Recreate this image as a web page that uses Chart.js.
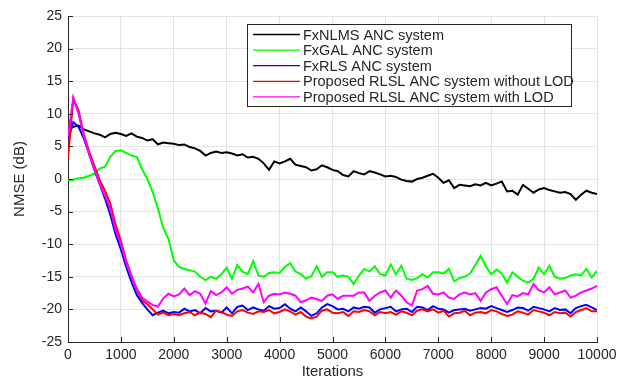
<!DOCTYPE html>
<html>
<head>
<meta charset="utf-8">
<title>NMSE vs iterations</title>
<script src="https://cdn.jsdelivr.net/npm/chart.js@4.4.0/dist/chart.umd.min.js"></script>
<style>
    html, body { margin: 0; padding: 0; background: #fff; }
    #wrap { width: 632px; height: 381px; }
</style>
</head>
<body>
<div id="wrap"><canvas id="nmseChart" width="632" height="381"></canvas></div>
<script>
// NMSE curves, one value every 100 iterations (0 .. 10000)
const ITER_STEP = 100;

const fxnlms = [
    7.6, 8.0, 8.2, 7.6, 7.3, 7.0, 6.8, 6.4, 6.9, 7.1,
    6.9, 6.6, 7.0, 6.5, 6.3, 5.9, 6.1, 5.3, 5.6, 5.5,
    5.4, 5.2, 5.3, 4.9, 4.7, 4.3, 3.6, 4.0, 4.2, 4.0,
    4.1, 3.9, 3.6, 3.8, 3.3, 3.4, 3.1, 2.4, 1.4, 2.7,
    2.4, 2.7, 3.1, 2.2, 2.0, 1.8, 1.3, 1.5, 2.1, 1.8,
    1.4, 1.2, 0.6, 0.4, 1.2, 0.9, 0.7, 1.2, 1.0, 0.7,
    0.4, 0.5, 0.3, -0.1, -0.3, -0.4, 0.0, 0.2, 0.5, 0.8,
    0.2, -0.6, -0.2, -1.4, -0.9, -1.0, -1.1, -0.8, -1.0, -0.6,
    -1.0, -0.7, -0.4, -1.9, -1.8, -2.4, -0.9, -1.5, -2.1, -1.6,
    -1.4, -1.7, -1.9, -2.1, -2.0, -2.3, -3.2, -2.4, -1.8, -2.1,
    -2.3
];

const fxgal = [
    -0.2, -0.1, 0.1, 0.2, 0.5, 0.8, 1.6, 1.9, 3.4, 4.3,
    4.4, 4.0, 3.6, 3.4, 1.5, 0.0, -2.0, -4.5, -7.5, -9.2,
    -12.5, -13.5, -13.8, -14.0, -14.2, -15.0, -15.5, -15.0, -15.3, -14.6,
    -13.6, -15.3, -13.2, -14.2, -14.6, -12.6, -14.8, -15.0, -14.4, -14.3,
    -14.4, -13.5, -12.9, -14.2, -14.6, -15.3, -14.9, -13.4, -15.0, -14.3,
    -14.3, -15.0, -14.8, -15.0, -16.1, -14.8, -13.8, -14.2, -13.4, -14.6,
    -14.8, -13.1, -14.6, -13.3, -15.3, -15.5, -15.2, -14.6, -15.1, -14.3,
    -14.3, -14.5, -13.8, -15.7, -15.2, -15.0, -14.5, -13.2, -11.8, -13.4,
    -14.6, -13.9, -14.5, -15.9, -14.3, -15.0, -15.6, -15.9, -15.3, -13.6,
    -14.6, -13.3, -15.0, -15.3, -15.2, -14.8, -14.6, -14.8, -13.8, -15.1,
    -14.1
];

const fxrls = [
    6.0, 8.7, 8.0, 6.2, 3.8, 1.4, -0.8, -3.0, -5.5, -8.5,
    -10.8, -13.5, -15.8, -17.8, -19.0, -20.0, -20.9, -20.5, -20.2, -20.6,
    -20.4, -20.5, -19.9, -20.3, -20.1, -20.6, -19.8, -20.3, -20.2, -20.5,
    -19.7, -20.6, -19.6, -19.4, -20.1, -19.7, -20.0, -20.2, -19.5, -19.9,
    -19.8, -19.2, -19.9, -20.3, -19.7, -20.3, -21.0, -20.6, -19.7, -19.2,
    -19.5, -20.0, -19.9, -20.3, -19.7, -19.9, -19.6, -19.7, -20.5, -20.0,
    -19.8, -19.6, -20.3, -20.0, -19.9, -20.4, -19.6, -19.7, -20.1, -19.5,
    -19.9, -20.0, -20.5, -20.1, -20.0, -19.9, -20.2, -20.0, -19.8, -19.9,
    -19.5, -19.8, -20.1, -20.4, -20.1, -19.7, -19.8, -20.2, -19.6, -19.8,
    -20.0, -20.3, -19.8, -20.1, -20.0, -20.6, -19.8, -19.5, -19.3, -19.7,
    -20.1
];

const rlslNoLod = [
    3.2, 12.3, 10.5, 6.8, 4.2, 2.0, -0.2, -1.8, -3.8, -7.0,
    -9.5, -12.5, -14.8, -17.0, -18.6, -19.2, -20.0, -20.8, -20.5, -20.9,
    -20.7, -20.9, -20.6, -20.4, -20.9, -20.5, -20.7, -21.2, -20.2, -20.4,
    -20.8, -21.0, -20.3, -20.1, -20.5, -20.7, -20.3, -20.4, -20.1, -20.6,
    -20.4, -20.0, -20.3, -20.8, -20.4, -21.1, -21.4, -21.1, -20.2, -20.0,
    -20.5, -20.6, -20.4, -21.0, -20.3, -20.4, -20.1, -20.3, -20.9, -20.4,
    -20.6, -20.4, -20.8, -20.3, -20.5, -20.9, -20.2, -20.0, -20.3, -20.0,
    -20.5, -20.2, -21.1, -20.6, -20.5, -20.2, -20.9, -20.5, -20.4, -20.6,
    -20.1, -20.3, -20.7, -21.0, -20.8, -20.3, -20.5, -20.8, -20.1, -20.3,
    -20.5, -20.9, -20.4, -20.6, -20.5, -21.1, -20.4, -20.1, -19.8, -20.3,
    -20.3
];

const rlslLod = [
    6.5, 12.5, 10.0, 6.5, 3.8, 1.5, -0.7, -2.6, -4.5, -7.8,
    -10.0, -12.8, -15.0, -16.8, -18.2, -18.8, -19.3, -19.6, -18.3, -17.6,
    -18.0, -17.7, -16.8, -17.8, -17.2, -17.6, -19.1, -17.2, -17.8, -17.4,
    -16.6, -17.6, -17.0, -16.8, -16.5, -17.4, -16.1, -18.9, -17.9, -17.6,
    -17.7, -17.4, -17.6, -17.9, -18.9, -18.6, -18.2, -18.4, -18.7, -17.9,
    -17.7, -18.4, -17.9, -17.9, -17.9, -17.4, -17.4, -18.7, -17.9, -17.4,
    -17.1, -18.2, -17.1, -17.9, -18.9, -19.4, -17.1, -16.9, -16.4, -17.6,
    -17.7, -17.4, -18.2, -18.4, -17.7, -17.4, -17.7, -17.5, -18.7, -17.4,
    -16.9, -16.6, -17.9, -19.2, -17.8, -18.0, -17.5, -17.7, -16.1, -17.1,
    -17.4, -16.6, -17.7, -17.4, -17.1, -18.2, -17.9, -17.4, -17.1, -16.8,
    -16.4
];

const seriesNames = [
    "FxNLMS ANC system",
    "FxGAL ANC system",
    "FxRLS ANC system",
    "Proposed RLSL ANC system without LOD",
    "Proposed RLSL ANC system with LOD"
];
const seriesValues = [fxnlms, fxgal, fxrls, rlslNoLod, rlslLod];
const seriesColors = ["#000000", "#00ff00", "#0000ff", "#ff0000", "#ff00ff"];

const iterations = fxnlms.map((_, i) => i * ITER_STEP);

const axisColor = "#262626";
const gridColor = "#e3e3e3";
const fontFamily = "'Liberation Sans', Arial, Helvetica, sans-serif";

// MATLAB-style inward tick marks on the left and bottom axes
const innerTicks = {
    id: "innerTicks",
    afterDatasetsDraw(chart) {
        const { ctx, chartArea, scales } = chart;
        ctx.save();
        ctx.strokeStyle = axisColor;
        ctx.lineWidth = 1;
        ctx.beginPath();
        scales.y.ticks.forEach((t) => {
            const py = Math.round(scales.y.getPixelForValue(t.value)) + 0.5;
            ctx.moveTo(chartArea.left, py);
            ctx.lineTo(chartArea.left + 5, py);
        });
        scales.x.ticks.forEach((t) => {
            const px = Math.round(scales.x.getPixelForValue(t.value)) + 0.5;
            ctx.moveTo(px, chartArea.bottom);
            ctx.lineTo(px, chartArea.bottom - 5);
        });
        ctx.stroke();
        ctx.restore();
    }
};

// Boxed legend in the upper right of the plot
const boxLegend = {
    id: "boxLegend",
    afterDraw(chart) {
        const ctx = chart.ctx;
        const x = 247, y = 24, w = 324, h = 82;
        const rowH = 15.6;
        ctx.save();
        ctx.fillStyle = "#fff";
        ctx.fillRect(x, y, w, h);
        ctx.strokeStyle = axisColor;
        ctx.lineWidth = 1;
        ctx.strokeRect(x + 0.5, y + 0.5, w, h);
        ctx.font = "14.5px " + fontFamily;
        ctx.textBaseline = "middle";
        seriesNames.forEach((name, i) => {
            const cy = y + 10.5 + i * rowH;
            ctx.strokeStyle = seriesColors[i];
            ctx.lineWidth = 1.3;
            ctx.beginPath();
            ctx.moveTo(x + 6, cy);
            ctx.lineTo(x + 53, cy);
            ctx.stroke();
            ctx.fillStyle = axisColor;
            ctx.fillText(name, x + 56, cy + 1);
        });
        ctx.restore();
    }
};

const datasets = seriesNames.map((name, i) => ({
    label: name,
    data: iterations.map((it, k) => ({ x: it, y: seriesValues[i][k] })),
    borderColor: seriesColors[i],
    borderWidth: 2,
    pointRadius: 0,
    tension: 0,
    fill: false,
    order: seriesNames.length - i // later series drawn on top
}));

new Chart(document.getElementById("nmseChart"), {
    type: "line",
    data: { datasets: datasets },
    options: {
        responsive: false,
        animation: false,
        events: [],
        layout: { padding: { left: 0, right: 35, top: 16, bottom: 0 } },
        plugins: {
            legend: { display: false },
            tooltip: { enabled: false }
        },
        scales: {
            x: {
                type: "linear",
                min: 0,
                max: 10000,
                afterFit: (scale) => { scale.height = 39; },
                ticks: {
                    stepSize: 1000,
                    color: axisColor,
                    padding: 5,
                    maxRotation: 0,
                    callback: (v) => String(v),
                    font: { family: fontFamily, size: 14 }
                },
                grid: { color: gridColor, drawTicks: false },
                border: { display: true, color: axisColor, width: 1 },
                title: {
                    display: true,
                    text: "Iterations",
                    color: axisColor,
                    padding: { top: 0, bottom: 0 },
                    font: { family: fontFamily, size: 15 }
                }
            },
            y: {
                min: -25,
                max: 25,
                afterFit: (scale) => { scale.width = 68; },
                ticks: {
                    stepSize: 5,
                    color: axisColor,
                    padding: 6,
                    callback: (v) => String(v),
                    font: { family: fontFamily, size: 14 }
                },
                grid: { color: gridColor, drawTicks: false },
                border: { display: true, color: axisColor, width: 1 },
                title: {
                    display: true,
                    text: "NMSE (dB)",
                    color: axisColor,
                    padding: { top: 11, bottom: 0 },
                    font: { family: fontFamily, size: 15 }
                }
            }
        }
    },
    plugins: [innerTicks, boxLegend]
});
</script>
</body>
</html>
